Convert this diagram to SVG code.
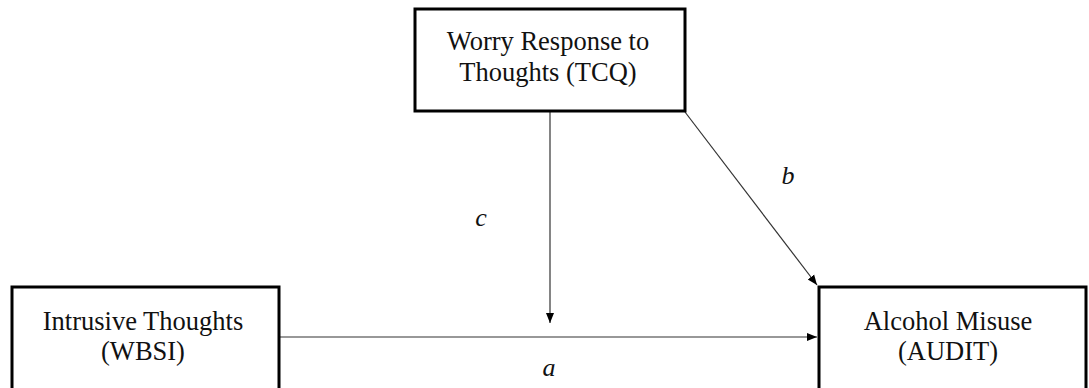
<svg xmlns="http://www.w3.org/2000/svg" width="1089" height="388" viewBox="0 0 1089 388">
  <style>
    .box { fill: #fff; stroke: #000; stroke-width: 3; }
    .lbl { font-family: "Liberation Serif", "Times New Roman", serif; font-size: 26.5px; fill: #111; text-anchor: middle; }
    .path-lbl { font-family: "Liberation Serif", "Times New Roman", serif; font-size: 26px; font-style: italic; fill: #111; text-anchor: middle; }
    .edge { stroke: #333; stroke-width: 1.2; fill: none; marker-end: url(#arrow); }
  </style>
  <defs>
    <marker id="arrow" viewBox="0 0 10 10" refX="10" refY="5" markerWidth="10" markerHeight="10" markerUnits="userSpaceOnUse" orient="auto">
      <path d="M0,1 L10,5 L0,9 Z" fill="#000"/>
    </marker>
  </defs>
  <rect width="1089" height="388" fill="#fff"/>

  <g id="connectors">
    <line class="edge" x1="280" y1="337" x2="817" y2="337"/>
    <line class="edge" x1="550" y1="112" x2="550" y2="323"/>
    <line class="edge" x1="685" y1="112" x2="817" y2="285"/>
  </g>

  <g id="node-tcq">
    <rect class="box" x="415" y="9" width="270" height="102"/>
    <text class="lbl" x="548" y="50">Worry Response to</text>
    <text class="lbl" x="548" y="81">Thoughts (TCQ)</text>
  </g>

  <g id="node-wbsi">
    <rect class="box" x="12" y="287" width="267" height="110"/>
    <text class="lbl" x="143" y="330">Intrusive Thoughts</text>
    <text class="lbl" x="143" y="360">(WBSI)</text>
  </g>

  <g id="node-audit">
    <rect class="box" x="819" y="287" width="267" height="110"/>
    <text class="lbl" x="948" y="330">Alcohol Misuse</text>
    <text class="lbl" x="948" y="360">(AUDIT)</text>
  </g>

  <g id="path-labels">
    <text class="path-lbl" x="549" y="376">a</text>
    <text class="path-lbl" x="788" y="184">b</text>
    <text class="path-lbl" x="481" y="226">c</text>
  </g>
</svg>
